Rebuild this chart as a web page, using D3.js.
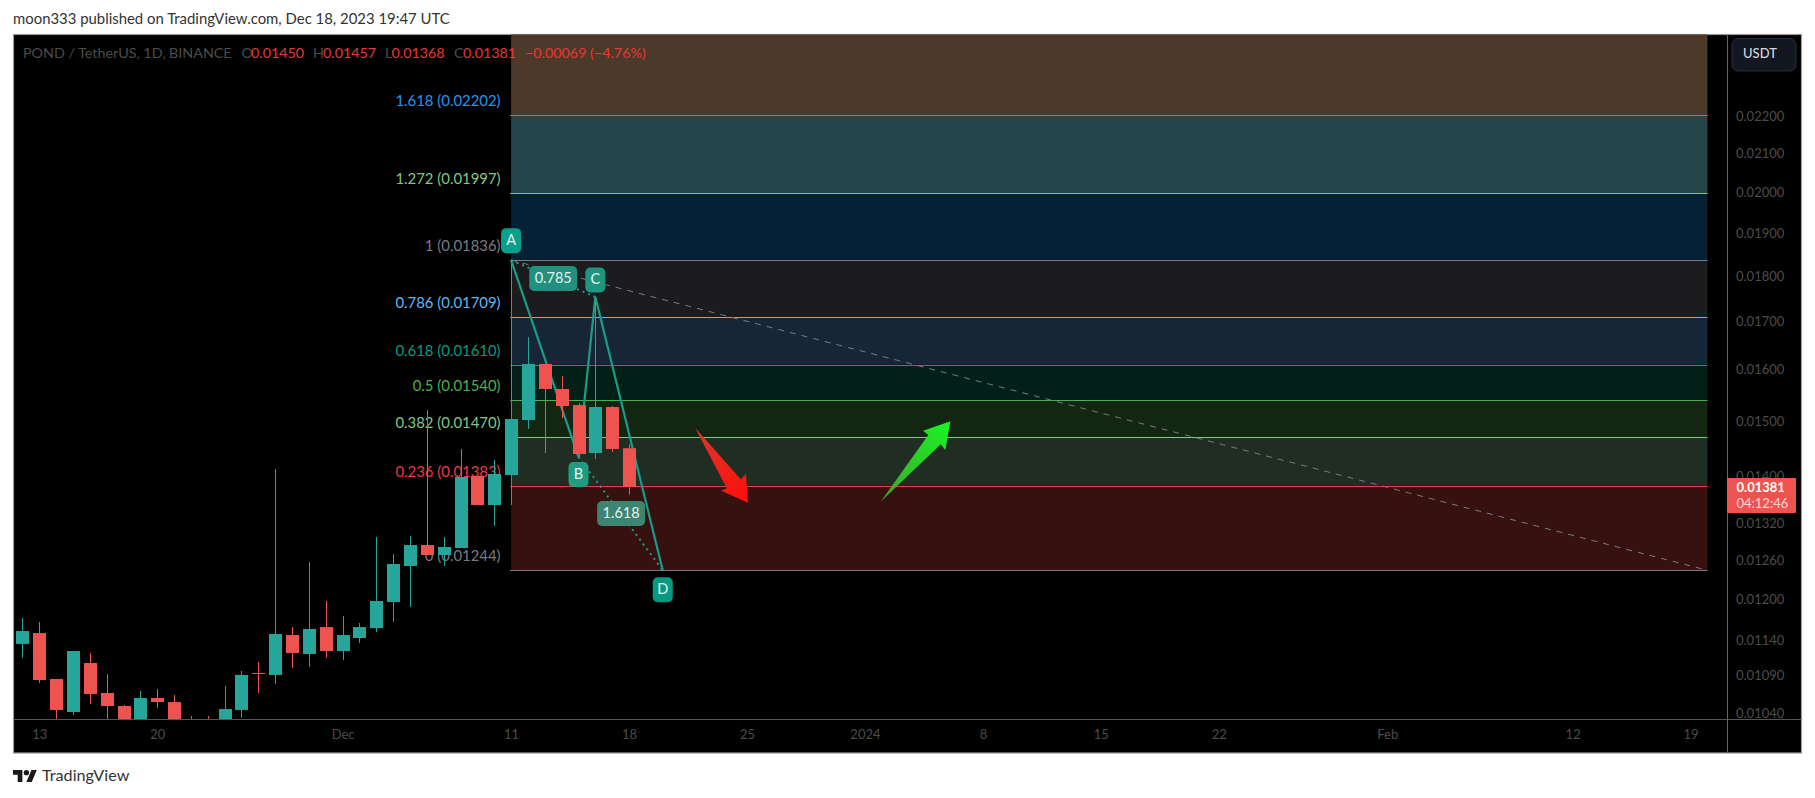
<!DOCTYPE html>
<html><head><meta charset="utf-8">
<style>html,body{margin:0;padding:0;background:#fff}svg{display:block}text{font-family:Lato,"Open Sans",sans-serif}</style>
<script src="https://cdnjs.cloudflare.com/ajax/libs/d3/7.8.5/d3.min.js"></script>
</head><body>
<svg id="c" width="1815" height="798"></svg>
<script>
// day numbers: 0 = Nov 13 2023
const days=[-1,0,1,2,3,4,5,6,7,8,9,10,11,12,13,14,15,16,17,18,19,20,21,22,23,24,25,26,27,28,29,30,31,32,33,34,35];
const opens=[.011342,.011498,.010854,.010413,.011074,.010665,.010492,.010244,.010598,.010544,.010054,.010244,.010244,.010440,.010936,.010909,.011470,.011200,.011585,.011242,.011426,.011570,.011955,.012507,.012841,.012681,.012793,.014003,.013502,.014020,.015022,.016116,.015619,.015307,.014413,.015269,.01450];
const highs=[.011717,.011659,.010854,.011088,.011214,.010922,.010505,.010691,.010718,.010637,.010361,.010361,.010758,.010963,.011088,.014127,.011585,.012570,.011970,.011747,.011644,.012971,.012697,.012987,.015212,.012971,.014486,.014003,.014287,.018360,.016672,.016116,.015876,.015346,.017530,.015289,.01457];
const lows=[.011144,.010799,.010283,.010374,.010518,.010283,.010054,.010054,.010466,.010054,.010054,.010054,.010244,.010335,.010665,.010785,.011004,.011018,.011144,.011115,.011355,.011513,.011659,.011880,.012681,.012507,.012793,.013502,.013152,.013502,.014853,.014413,.015060,.014341,.014305,.014431,.01368];
const closes=[.011527,.010840,.010440,.011242,.010651,.010492,.010244,.010598,.010544,.010244,.010244,.010054,.010452,.010909,.010922,.011484,.011214,.011557,.011242,.011470,.011585,.011970,.012539,.012841,.012681,.012809,.013985,.013502,.014039,.015041,.016116,.015619,.015289,.014395,.015269,.014486,.01381];

const fibLevels=["1.618","1.272","1","0.786","0.618","0.5","0.382","0.236","0"];
const fibPrices=[.02202,.01997,.01836,.01709,.01610,.01540,.01470,.01383,.01244];
const fibLine=["#3f8fd6","#81c784","#787b86","#64b5f6","#22917f","#4caf50","#81c784","#e8403f","#787b86"];
const fibText=["#2196f3","#81c784","#787b86","#64b5f6","#089981","#4caf50","#81c784","#f23645","#787b86"];
const fibFill=["#24464a","#062135","#1c1c1e","#172636","#022018","#122612","#202d22","#36110f"];
const fibTopFill="#4b3a2a", fibTopPrice=.0245, fibStartDay=28, fibEndDay=99;

const patDays=[28,32,33,37], patPrices=[.01836,.01434,.01753,.01244], patNames=["A","B","C","D"];
const redArrow=[[38.93,.014872],[41.63,.013945],[41.94,.014039],[42.06,.013541],[40.47,.013747],[40.8,.013788]];
const greenArrow=[[49.93,.013558],[53.5,.014571],[53.77,.014468],[54.07,.014998],[52.45,.014822],[52.76,.014743]];

const timeTicks=[0,7,18,28,35,42,49,56,63,70,80,91,98];
const timeLabels=["13","20","Dec","11","18","25","2024","8","15","22","Feb","12","19"];
const priceTicks=[.022,.021,.02,.019,.018,.017,.016,.015,.014,.0132,.0126,.012,.0114,.0109,.0104];

const x=d3.scaleLinear().domain([0,98]).range([39.3,1690.6]);
const y=d3.scaleLog().domain([.01244,.02202]).range([570.3,115.3]);
const L=13.5,R=1727,T=34.5,B=719,FR=1801.5,FB=753;
const svg=d3.select("#c");
const UP="#26a69a",DN="#ef5350";

const defs=svg.append("defs");
defs.append("clipPath").attr("id","pane").append("rect").attr("x",L).attr("y",T).attr("width",R-L).attr("height",B-T);
const grad=(id,a,b,p,q)=>{const g=defs.append("linearGradient").attr("id",id).attr("gradientUnits","userSpaceOnUse")
 .attr("x1",x(p[0])).attr("y1",y(p[1])).attr("x2",x(q[0])).attr("y2",y(q[1]));
 g.append("stop").attr("offset",0).attr("stop-color",a);g.append("stop").attr("offset",1).attr("stop-color",b);};
grad("gr","#d9382a","#ff0d0d",redArrow[0],redArrow[3]);
grad("gg","#3fa32c","#18f524",greenArrow[0],greenArrow[3]);

svg.append("rect").attr("x",L).attr("y",T).attr("width",FR-L).attr("height",FB-T).attr("fill","#000").attr("stroke","#9b9b9f").attr("stroke-width",1.2);
svg.append("text").attr("x",13).attr("y",20).attr("dominant-baseline","middle").attr("font-size",14.9).attr("fill","#333").text("moon333 published on TradingView.com, Dec 18, 2023 19:47 UTC");

const pane=svg.append("g").attr("clip-path","url(#pane)");
// fib zones
const fx0=x(fibStartDay),fx1=x(fibEndDay);
pane.append("rect").attr("x",fx0).attr("width",fx1-fx0).attr("y",y(fibTopPrice)).attr("height",y(fibPrices[0])-y(fibTopPrice)).attr("fill",fibTopFill);
pane.selectAll("rect.z").data(fibFill).join("rect").attr("class","z").attr("x",fx0).attr("width",fx1-fx0)
 .attr("y",(d,i)=>y(fibPrices[i])).attr("height",(d,i)=>y(fibPrices[i+1])-y(fibPrices[i])).attr("fill",d=>d);
pane.selectAll("line.f").data(fibPrices).join("line").attr("class","f").attr("x1",fx0-1).attr("x2",fx1)
 .attr("y1",d=>Math.round(y(d))+.5).attr("y2",d=>Math.round(y(d))+.5).attr("stroke",(d,i)=>fibLine[i]).attr("stroke-width",1);
pane.selectAll("text.f").data(fibPrices).join("text").attr("class","f").attr("x",fx0-10.5).attr("y",d=>y(d)-12.8)
 .attr("text-anchor","end").attr("dominant-baseline","middle").attr("font-size",14.9).attr("fill",(d,i)=>fibText[i])
 .text((d,i)=>fibLevels[i]+" ("+d.toFixed(5)+")");

// dashed trend line
pane.append("line").attr("x1",x(28)).attr("y1",y(.01836)).attr("x2",x(99)).attr("y2",y(.01244)).attr("stroke","#787b86").attr("stroke-width",1).attr("stroke-dasharray","6 6");

// pattern
const P=patDays.map((d,i)=>[x(d),y(patPrices[i])]);
const solid=d3.line();
pane.append("path").attr("d",solid(P)).attr("fill","none").attr("stroke","#1a9c88").attr("stroke-width",2.2);
[[0,2],[1,3]].forEach(s=>pane.append("line").attr("x1",P[s[0]][0]).attr("y1",P[s[0]][1]).attr("x2",P[s[1]][0]).attr("y2",P[s[1]][1])
 .attr("stroke","#1f9d85").attr("stroke-width",2).attr("stroke-dasharray","2 4"));

// arrows
const ap=a=>solid(a.map(p=>[x(p[0]),y(p[1])]))+"Z";
pane.append("path").attr("d",ap(redArrow)).attr("fill","url(#gr)");
pane.append("path").attr("d",ap(greenArrow)).attr("fill","url(#gg)");

// candles
const col=i=>closes[i]>=opens[i]?UP:DN;
pane.selectAll("line.w").data(days).join("line").attr("class","w")
 .attr("x1",d=>Math.round(x(d))+.5).attr("x2",d=>Math.round(x(d))+.5)
 .attr("y1",(d,i)=>y(highs[i])).attr("y2",(d,i)=>y(lows[i])).attr("stroke",(d,i)=>col(i)).attr("stroke-width",1);
pane.selectAll("rect.b").data(days).join("rect").attr("class","b")
 .attr("x",d=>Math.round(x(d))-6).attr("width",13)
 .attr("y",(d,i)=>y(Math.max(opens[i],closes[i])))
 .attr("height",(d,i)=>Math.max(1,Math.abs(y(opens[i])-y(closes[i])))).attr("fill",(d,i)=>col(i));

// pattern labels
const tag=(cx,cy,w,txt,fill)=>{pane.append("rect").attr("x",cx-w/2).attr("y",cy-12.5).attr("width",w).attr("height",25).attr("rx",5).attr("fill",fill);
 pane.append("text").attr("x",cx).attr("y",cy+.5).attr("text-anchor","middle").attr("dominant-baseline","middle").attr("font-size",14.5).attr("fill","#e6f2ee").text(txt);};
tag(P[0][0],P[0][1]-19.5,20,patNames[0],"#089f8c");
tag(P[1][0],P[1][1]+17.5,20,patNames[1],"#1f9d80");
tag(P[2][0],P[2][1]-17,20,patNames[2],"#1f9480");
tag(P[3][0],P[3][1]+19.5,20,patNames[3],"#089981");
tag((P[0][0]+P[2][0])/2,278.5,48,"0.785","#21907e");
tag((P[1][0]+P[3][0])/2+0.5,513.5,48,"1.618","#3d8570");

// axes
svg.append("line").attr("x1",L).attr("x2",FR).attr("y1",B+.5).attr("y2",B+.5).attr("stroke","#555");
svg.append("line").attr("x1",R+.5).attr("x2",R+.5).attr("y1",T).attr("y2",FB).attr("stroke","#666");
const ax=svg.append("g").attr("transform",`translate(0,${B})`).call(d3.axisBottom(x).tickValues(timeTicks).tickSize(0).tickPadding(11).tickFormat((d,i)=>timeLabels[i]));
ax.select(".domain").remove();
ax.selectAll("text").attr("font-size",13).attr("font-family","Lato").attr("fill","#4c4c4c");
const ay=svg.append("g").attr("transform",`translate(${R},0)`).call(d3.axisRight(y).tickValues(priceTicks).tickSize(0).tickPadding(9).tickFormat(d3.format(".5f")));
ay.select(".domain").remove();
ay.selectAll("text").attr("font-size",13).attr("font-family","Lato").attr("fill","#4c4c4c").attr("dy","0.32em");

// USDT button
svg.append("rect").attr("x",1732).attr("y",38.5).attr("width",64).attr("height",32.5).attr("rx",6).attr("fill","#131722").attr("stroke","#2a2e39");
svg.append("text").attr("x",1743).attr("y",55).attr("dominant-baseline","middle").attr("font-size",13).attr("font-weight",500).attr("fill","#d1d4dc").text("USDT");

// last price tag
svg.append("rect").attr("x",R).attr("y",y(closes[closes.length-1])-9).attr("width",69).attr("height",35).attr("rx",1).attr("fill",DN);
svg.append("text").attr("x",1736.5).attr("y",488.5).attr("dominant-baseline","middle").attr("font-size",13).attr("font-weight",700).attr("fill","#fff").text(d3.format(".5f")(closes[closes.length-1]));
svg.append("text").attr("x",1736.5).attr("y",504.5).attr("dominant-baseline","middle").attr("font-size",13).attr("fill","#fcd9d7").text("04:12:46");

// legend
const lg=[[23,"POND / TetherUS, 1D, BINANCE","#4c4c4c"],[241.5,"O","#4c4c4c"],[251,"0.01450","#e53935"],[313,"H","#4c4c4c"],[323,"0.01457","#e53935"],[385,"L","#4c4c4c"],[391.5,"0.01368","#e53935"],[454,"C","#4c4c4c"],[463,"0.01381","#e53935"],[525,"\u22120.00069 (\u22124.76%)","#e53935"]];
svg.selectAll("text.lg").data(lg).join("text").attr("class","lg").attr("x",d=>d[0]).attr("y",54).attr("dominant-baseline","middle").attr("font-size",14.3).attr("fill",d=>d[2]).text(d=>d[1]);

// logo
const lgo=svg.append("g").attr("transform","translate(13,767.3) scale(.67)").attr("fill","#1a1a1a");
lgo.append("path").attr("d","M14 22H7V11H0V4h14v18zM28 22h-8l7.5-18h8L28 22z");
lgo.append("circle").attr("cx",20).attr("cy",8).attr("r",4);
svg.append("text").attr("x",42).attr("y",777).attr("dominant-baseline","middle").attr("font-size",16.2).attr("fill","#333").text("TradingView");
</script>
</body></html>
